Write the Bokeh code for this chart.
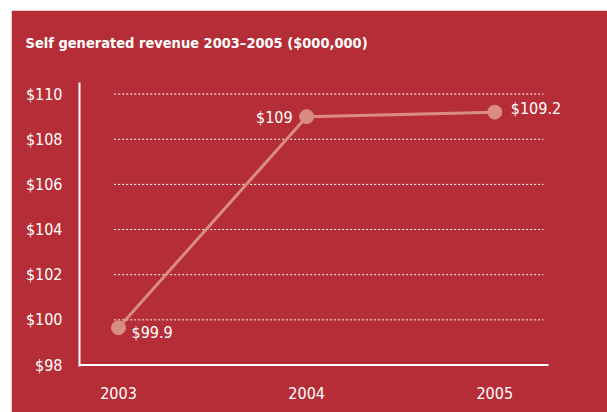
from bokeh.plotting import figure
from bokeh.models import Range1d, FixedTicker, ColumnDataSource, LabelSet, Title
from bokeh.embed import file_html
from bokeh.resources import INLINE
from bokeh.core.properties import value

# ---- data ----
years = [2003, 2004, 2005]
revenue = [99.65, 109.0, 109.2]          # positions as drawn in the picture
point_labels = ["$99.9", "$109", "$109.2"]
y_ticks = [98, 100, 102, 104, 106, 108, 110]
y_tick_labels = ["$98", "$100", "$102", "$104", "$106", "$108", "$110"]
x_tick_labels = ["2003", "2004", "2005"]
chart_title = "Self generated revenue 2003\u20132005 ($000,000)"

# ---- style ----
RED = "#B52D36"
SALMON = "#D98C82"
FONT = "DejaVu Sans Condensed"
label_align = ["left", "right", "left"]
label_dx = [13, -14, 16]
label_dy = [-5, -1, 4]

X0, X1 = 2002.7926, 2005.562
Y0, Y1 = 97.934, 110.513
p = figure(width=596, height=402, output_backend="svg", toolbar_location=None,
           x_range=Range1d(X0, X1), y_range=Range1d(Y0, Y1),
           min_border_left=68, min_border_right=7, min_border_top=72,
           min_border_bottom=46, title=None)
p.margin = (10, 0, 0, 11)
p.background_fill_color = RED
p.border_fill_color = RED
p.outline_line_color = RED
p.outline_line_width = 2
p.xgrid.visible = False
p.ygrid.visible = False

# spacer between frame and title, then the title itself
spacer = Title(text=" ", text_font_size="1px", standoff=29, text_color=RED)
p.add_layout(spacer, "above")
main_title = Title(text=chart_title, text_font=FONT, text_font_size="14.5px",
                   text_font_style="bold", text_color="white", align="left",
                   offset=-54, standoff=0)
p.add_layout(main_title, "above")

for ax in (p.xaxis[0], p.yaxis[0]):
    ax.axis_line_color = "white"
    ax.axis_line_width = 2
    ax.major_tick_line_color = None
    ax.minor_tick_line_color = None
    ax.major_label_text_color = "white"
    ax.major_label_text_font = FONT
    ax.major_label_text_font_size = "16px"

p.xaxis.axis_line_color = None
p.yaxis.ticker = FixedTicker(ticks=y_ticks)
p.yaxis.major_label_overrides = dict(zip(y_ticks, y_tick_labels))
p.yaxis.major_label_standoff = 11
p.xaxis.ticker = FixedTicker(ticks=years)
p.xaxis.major_label_overrides = dict(zip(years, x_tick_labels))
p.xaxis.major_label_standoff = 14

# bottom axis line (ends short of the frame's right edge)
p.segment(x0=[X0], y0=[y_ticks[0]], x1=[2005.2856], y1=[y_ticks[0]],
          line_color="white", line_width=2)

# dotted grid lines (not spanning full frame)
grid_vals = y_ticks[1:]
gx0 = 2002.977
gx1 = 2005.259
p.segment(x0=[gx0] * len(grid_vals), y0=grid_vals, x1=[gx1] * len(grid_vals),
          y1=grid_vals, line_color="white", line_width=1, line_dash="2 2")

p.line(years, revenue, line_color=SALMON, line_width=3)
p.scatter(years, revenue, size=14, fill_color=SALMON, line_color=SALMON)

src = ColumnDataSource(dict(x=years, y=revenue, t=point_labels, a=label_align,
                            dx=label_dx, dy=label_dy))
labels = LabelSet(x="x", y="y", text="t", source=src, x_offset="dx", y_offset="dy",
                  text_align="a", text_baseline="middle", text_color="white",
                  text_font=value(FONT), text_font_size="16px")
p.add_layout(labels)

open("out.html", "w").write(file_html(p, INLINE))
